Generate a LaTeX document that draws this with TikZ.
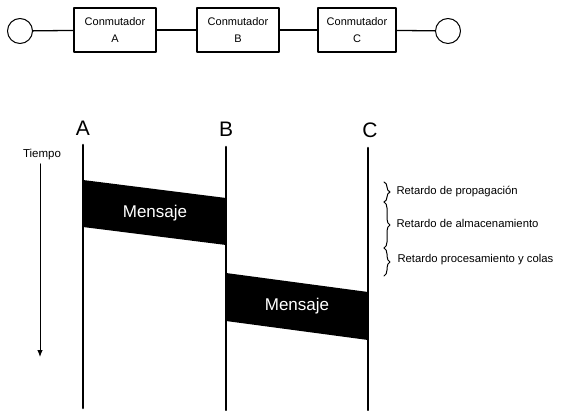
\documentclass[tikz,border=0pt]{standalone}
\usepackage{fontspec}
\setmainfont{Liberation Sans}
\usetikzlibrary{arrows.meta, decorations.pathreplacing}

\tikzset{
	conmut/.style={draw, line width=1.3pt, minimum width=82pt, minimum height=44pt,
		align=center, font=\fontsize{11}{17}\selectfont},
	extremo/.style={draw, circle, line width=1pt, minimum size=25pt, inner sep=0pt},
	enlace/.style={line width=1.3pt},
	linea/.style={line width=2.6pt},
	paquete/.style={fill=black},
	llave/.style={decorate, line width=1pt, decoration={brace, amplitude=6pt}},
	retardo/.style={anchor=west, font=\fontsize{11.3}{12}\selectfont},
}

\begin{document}
\begin{tikzpicture}[x=1pt, y=-1pt, >=Latex, line cap=round, line join=round]
\useasboundingbox (0,0) rectangle (561,411);

%========================
% Top: path through the switches
%========================
\node[extremo] (ini) at (20,31) {};
\node[conmut] (swA) at (115,30) {Conmutador\\A};
\node[conmut] (swB) at (238,30) {Conmutador\\B};
\node[conmut, minimum width=78pt] (swC) at (357,30) {Conmutador\\C};
\node[extremo] (fin) at (448,31) {};
\draw[enlace] (ini) -- (swA);
\draw[enlace] (swA) -- (swB);
\draw[enlace] (swB) -- (swC);
\draw[enlace] (swC) -- (fin);

%========================
% Bottom: timing diagram
%========================
% station labels and time lines
\node[font=\fontsize{21}{21}\selectfont] (labA) at (83,128) {A};
\node[font=\fontsize{21}{21}\selectfont] (labB) at (226,129) {B};
\node[font=\fontsize{21}{21}\selectfont] (labC) at (370,130) {C};
\coordinate (Atop) at (83,145);  \coordinate (Abot) at (83,408);
\coordinate (Btop) at (226,147); \coordinate (Bbot) at (226,410);
\coordinate (Ctop) at (368,148); \coordinate (Cbot) at (368,410);
\draw[linea] (Atop) -- (Abot);
\draw[linea] (Btop) -- (Bbot);
\draw[linea] (Ctop) -- (Cbot);

% time axis
\node[font=\fontsize{11.5}{12}\selectfont] (tiempo) at (42,155) {Tiempo};
\coordinate (tfin) at (40,357);
\draw[line width=0.9pt, -{Latex[length=7pt, width=5.5pt]}] (tiempo.south -| tfin) -- (tfin);

% message A -> B
\fill[paquete] (83,180) -- (226,198) -- (226,245) -- (83,227) -- cycle;
\node[white, font=\fontsize{17}{17}\selectfont] (msg1) at (155,213) {Mensaje};

% message B -> C
\fill[paquete] (226,273) -- (368,292) -- (368,340) -- (226,321) -- cycle;
\node[white, font=\fontsize{17}{17}\selectfont] (msg2) at (297,306) {Mensaje};

% delays
\draw[llave] (384,182) -- (384,202);
\draw[llave] (384,202) -- (384,248);
\draw[llave] (384,248) -- (384,276);
\node[retardo] (rprop) at (393,192) {Retardo de propagación};
\node[retardo] (ralm) at (393,223) {Retardo de almacenamiento};
\node[retardo] (rproc) at (394,260) {Retardo procesamiento y colas};

\end{tikzpicture}
\end{document}
